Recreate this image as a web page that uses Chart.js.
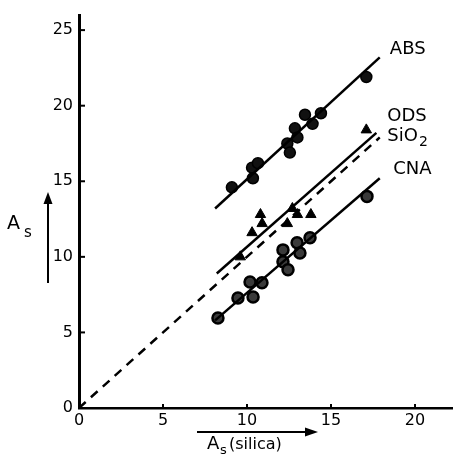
<!DOCTYPE html>
<html>
<head>
<meta charset="utf-8">
<script src="https://cdn.jsdelivr.net/npm/chart.js@4/dist/chart.umd.min.js"></script>
<style>
    body { margin: 0; background: #fff; }
    canvas { display: block; }
</style>
</head>
<body>
<canvas id="chart" width="453" height="457"></canvas>
<script>
// tick labels
var xTicks = [0, 5, 10, 15, 20];
var yTicks = [0, 5, 10, 15, 20, 25];

// ABS points
var absX = [9.1, 10.3, 10.65, 10.35, 12.4, 12.55, 12.85, 13.0, 13.45, 13.9, 14.4, 17.1];
var absY = [14.6, 15.9, 16.2, 15.2, 17.5, 16.9, 18.5, 17.9, 19.4, 18.8, 19.5, 21.9];

// ODS points (triangles)
var odsX = [9.6, 10.3, 10.8, 10.9, 12.4, 12.7, 13.0, 13.8, 17.1];
var odsY = [10.0, 11.6, 12.8, 12.2, 12.2, 13.2, 12.8, 12.8, 18.4];

// CNA points
var cnaX = [8.27, 9.46, 10.36, 10.18, 10.89, 12.14, 12.14, 12.44, 12.98, 13.15, 13.75, 17.14];
var cnaY = [5.96, 7.28, 7.35, 8.34, 8.28, 10.46, 9.67, 9.14, 10.93, 10.26, 11.26, 14.0];

// fitted lines (start / end)
var absLineX = [8.1, 17.9];
var absLineY = [13.2, 23.2];
var odsLineX = [8.2, 17.7];
var odsLineY = [8.9, 18.2];
var cnaLineX = [8.1, 17.9];
var cnaLineY = [5.8, 15.2];
var sioLineX = [0, 17.9];
var sioLineY = [0, 17.9];

function pts(xs, ys) {
    return xs.map(function(x, i) { return {x: x, y: ys[i]}; });
}

var FONT = 'DejaVu Sans';
Chart.defaults.font.family = FONT;
Chart.defaults.color = '#000';

// curve labels, placed in data units
var curveLabels = [
    {text: 'ABS', x: 18.5, y: 23.7},
    {text: 'ODS', x: 18.35, y: 19.3},
    {text: 'SiO', sub: '2', x: 18.35, y: 18.0},
    {text: 'CNA', x: 18.7, y: 15.8}
];

var extras = {
    id: 'extras',
    afterDraw: function(chart) {
        var ctx = chart.ctx;
        var xs = chart.scales.x, ys = chart.scales.y;
        var area = chart.chartArea;
        ctx.save();
        ctx.strokeStyle = '#000';
        ctx.fillStyle = '#000';

        // tick marks pointing inwards
        ctx.lineWidth = 2;
        yTicks.forEach(function(v) {
            if (v === 0) return;
            var py = ys.getPixelForValue(v);
            ctx.beginPath();
            ctx.moveTo(area.left, py);
            ctx.lineTo(area.left + 6, py);
            ctx.stroke();
        });
        xTicks.forEach(function(v) {
            if (v === 0) return;
            var px = xs.getPixelForValue(v);
            ctx.beginPath();
            ctx.moveTo(px, area.bottom);
            ctx.lineTo(px, area.bottom - 4);
            ctx.stroke();
        });

        // curve labels
        ctx.textBaseline = 'middle';
        ctx.textAlign = 'left';
        curveLabels.forEach(function(l) {
            var px = xs.getPixelForValue(l.x);
            var py = ys.getPixelForValue(l.y);
            ctx.font = '18px ' + FONT;
            ctx.fillText(l.text, px, py);
            if (l.sub) {
                var w = ctx.measureText(l.text).width;
                ctx.font = '14px ' + FONT;
                ctx.fillText(l.sub, px + w + 1, py + 6);
            }
        });

        // y axis title with arrow
        ctx.font = '19px ' + FONT;
        ctx.fillText('A', 7, 224);
        ctx.font = '15px ' + FONT;
        ctx.fillText('s', 24, 233);
        ctx.lineWidth = 2;
        ctx.beginPath();
        ctx.moveTo(48, 283);
        ctx.lineTo(48, 200);
        ctx.stroke();
        ctx.beginPath();
        ctx.moveTo(48, 192);
        ctx.lineTo(43.5, 204);
        ctx.lineTo(52.5, 204);
        ctx.closePath();
        ctx.fill();

        // x axis title with arrow
        ctx.beginPath();
        ctx.moveTo(197, 432);
        ctx.lineTo(308, 432);
        ctx.stroke();
        ctx.beginPath();
        ctx.moveTo(318, 432);
        ctx.lineTo(305, 427.5);
        ctx.lineTo(305, 436.5);
        ctx.closePath();
        ctx.fill();
        ctx.font = '18px ' + FONT;
        ctx.fillText('A', 207, 444);
        ctx.font = '13px ' + FONT;
        ctx.fillText('s', 220, 451);
        ctx.font = '16px ' + FONT;
        ctx.fillText('(silica)', 229, 445);

        ctx.restore();
    }
};

var lineStyle = {
    showLine: true,
    pointRadius: 0,
    borderColor: '#000',
    borderWidth: 2.5,
    fill: false
};

var ctx = document.getElementById('chart').getContext('2d');
var chart = new Chart(ctx, {
    type: 'scatter',
    data: {
        datasets: [
            Object.assign({label: 'ABS fit', data: pts(absLineX, absLineY)}, lineStyle),
            Object.assign({label: 'ODS fit', data: pts(odsLineX, odsLineY)}, lineStyle),
            Object.assign({label: 'CNA fit', data: pts(cnaLineX, cnaLineY)}, lineStyle),
            Object.assign({label: 'SiO2', data: pts(sioLineX, sioLineY), borderDash: [9, 7]}, lineStyle),
            {
                label: 'ABS',
                data: pts(absX, absY),
                pointStyle: 'circle',
                pointRadius: 5.5,
                backgroundColor: '#111',
                borderColor: '#000',
                borderWidth: 1.5
            },
            {
                label: 'ODS',
                data: pts(odsX, odsY),
                pointStyle: 'triangle',
                pointRadius: 6,
                backgroundColor: '#000',
                borderColor: '#000',
                borderWidth: 1
            },
            {
                label: 'CNA',
                data: pts(cnaX, cnaY),
                pointStyle: 'circle',
                pointRadius: 5.5,
                backgroundColor: '#3a3a3a',
                borderColor: '#000',
                borderWidth: 2.5
            }
        ]
    },
    options: {
        responsive: false,
        animation: false,
        devicePixelRatio: 1,
        layout: {
            autoPadding: false,
            padding: {top: 15, right: 0, left: 0, bottom: 0}
        },
        plugins: {
            legend: {display: false},
            tooltip: {enabled: false}
        },
        scales: {
            x: {
                type: 'linear',
                min: 0,
                max: 22.26,
                afterBuildTicks: function(scale) {
                    scale.ticks = xTicks.map(function(v) { return {value: v}; });
                },
                afterFit: function(scale) {
                    scale.height = 49;
                    scale.paddingLeft = 0;
                    scale.paddingRight = 0;
                },
                grid: {display: false, drawTicks: false},
                border: {display: true, color: '#000', width: 2.5},
                ticks: {
                    padding: 3,
                    maxRotation: 0,
                    font: {size: 16, family: FONT}
                }
            },
            y: {
                type: 'linear',
                min: 0,
                max: 26,
                afterBuildTicks: function(scale) {
                    scale.ticks = yTicks.map(function(v) { return {value: v}; });
                },
                afterFit: function(scale) {
                    scale.width = 79;
                    scale.paddingTop = 0;
                    scale.paddingBottom = 0;
                },
                grid: {display: false, drawTicks: false},
                border: {display: true, color: '#000', width: 3},
                ticks: {
                    padding: 6,
                    font: {size: 16, family: FONT}
                }
            }
        }
    },
    plugins: [extras]
});
</script>
</body>
</html>
